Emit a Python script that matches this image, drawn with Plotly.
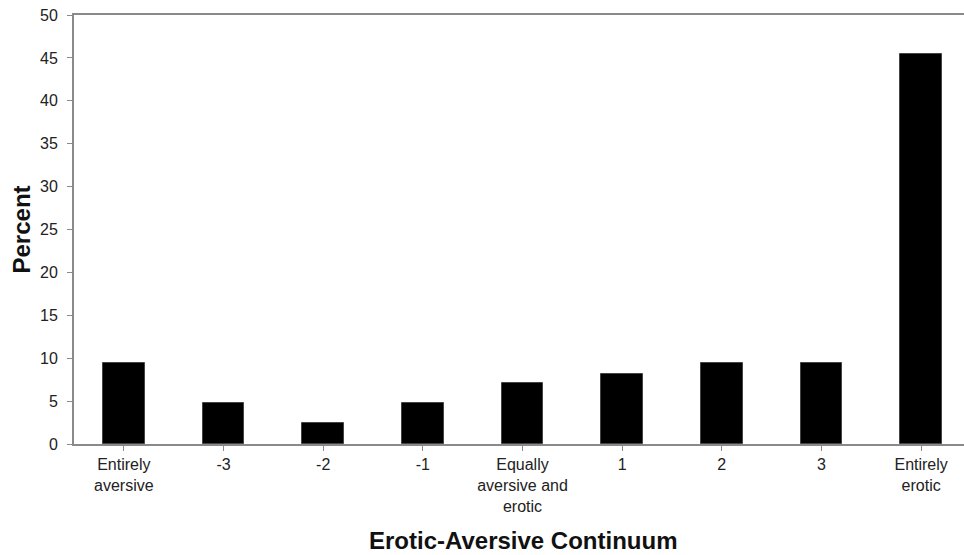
import plotly.graph_objects as go

categories = ["Entirely<br>aversive", "-3", "-2", "-1", "Equally<br>aversive and<br>erotic",
              "1", "2", "3", "Entirely<br>erotic"]
percent = [9.4, 4.8, 2.4, 4.8, 7.1, 8.2, 9.4, 9.4, 45.4]
y_ticks = [0, 5, 10, 15, 20, 25, 30, 35, 40, 45, 50]

W, H = 964, 555
L, R, T, B = 74, 0, 15, 111

fig = go.Figure()
fig.add_trace(go.Bar(
    x=list(range(len(categories))), y=percent,
    width=0.42,
    marker=dict(color="black", line=dict(color="#444444", width=1)),
))

axis_col = "#8a8a8a"
fig.update_layout(
    width=W, height=H,
    margin=dict(l=L, r=R, t=T, b=B, pad=0),
    plot_bgcolor="white", paper_bgcolor="white",
    showlegend=False,
    font=dict(family="Liberation Sans, Arial, sans-serif", size=16, color="#222222"),
    bargap=0,
)
fig.update_xaxes(
    range=[-0.5, 8.43], automargin=False,
    tickmode="array", tickvals=list(range(len(categories))), ticktext=categories,
    tickson="boundaries", ticks="outside", ticklen=5, tickcolor=axis_col, tickwidth=1,
    showline=True, linecolor=axis_col, linewidth=2, mirror=True,
    showgrid=False, zeroline=False,
    tickfont=dict(size=16, color="#222222"),
)
fig.update_yaxes(
    range=[0, 50], tickmode="array", tickvals=y_ticks, automargin=False,
    ticks="outside", ticklen=5, tickcolor=axis_col, tickwidth=1,
    showline=True, linecolor=axis_col, linewidth=2,
    showgrid=False, zeroline=False,
    tickfont=dict(size=16, color="#222222"),
    ticklabelstandoff=6,
)
fig.add_annotation(
    text="<b>Percent</b>", xref="paper", yref="paper",
    x=-(L - 21) / (W - L - R), y=0.5, textangle=-90,
    showarrow=False, font=dict(size=24, color="#111111"),
    xanchor="center", yanchor="middle",
)
fig.add_annotation(
    text="<b>Erotic-Aversive Continuum</b>", xref="paper", yref="paper",
    x=(523 - L) / (W - L - R), y=-(540 - (H - B)) / (H - T - B),
    showarrow=False, font=dict(size=24, color="#111111"),
    xanchor="center", yanchor="middle",
)
fig.write_html("out.html", config={"displayModeBar": False},
               post_script="document.body.style.margin='0';document.body.style.overflow='hidden';")
